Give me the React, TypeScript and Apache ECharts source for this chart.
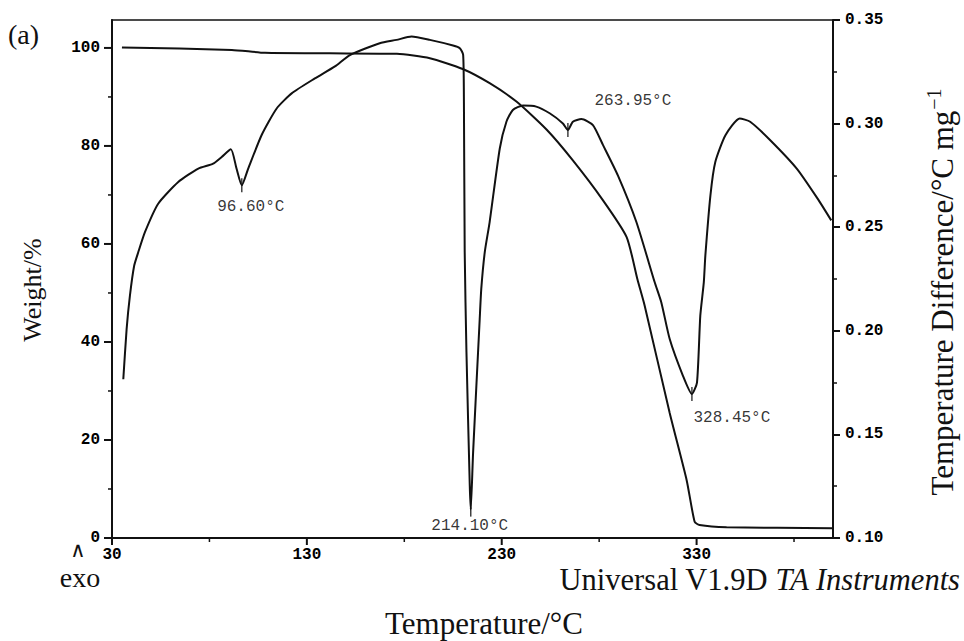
import React, { useEffect, useRef } from "react";
import * as echarts from "echarts";

// TGA (weight %) curve
const tgaTemp = [35.1, 91.5, 108.5, 141.8, 176.2, 193.1, 210, 223.8, 237.7, 253.1, 266.4, 281.8, 294.1, 299.7, 303.3, 316.2, 324.9, 329, 331.5, 345.4, 399.7];
const tgaWeight = [100.1, 99.6, 99.0, 98.9, 98.8, 97.9, 95.7, 92.8, 89.0, 83.3, 77.1, 69.0, 61.4, 52.7, 47.5, 25.5, 11.8, 3.3, 2.65, 2.2, 2.0];

// DTA (temperature difference, °C/mg) curve
const dtaTemp = [35.8, 37.5, 39.2, 41.4, 43.5, 46.9, 53.7, 64.0, 74.3, 81.9, 86.3, 91.0, 93.9, 96.6, 99.9, 106.8, 114.5, 122.2, 134.1, 144.4, 152.1, 167.4, 176.0, 183.7, 193.1, 205.0, 208.5, 210.2, 210.6, 211.0, 211.9, 213.6, 214.1, 215.3, 218.7, 219.5, 221.3, 223.8, 229.0, 232.4, 235.7, 240.9, 247.7, 254.6, 261.4, 263.95, 266.5, 270.9, 276.8, 282.0, 289.6, 299.1, 308.5, 311.9, 316.2, 323.0, 327.6, 330.2, 331.9, 333.7, 334.5, 337.1, 339.6, 344.8, 352.1, 357.5, 367.8, 381.4, 392.1, 399.1];
const dtaDiff = [0.1766, 0.2008, 0.217, 0.2315, 0.238, 0.2476, 0.2613, 0.2718, 0.2783, 0.2807, 0.2839, 0.2876, 0.2783, 0.2702, 0.2783, 0.2945, 0.3073, 0.3146, 0.3218, 0.3276, 0.3331, 0.3388, 0.3404, 0.342, 0.3404, 0.3377, 0.3364, 0.3332, 0.31, 0.238, 0.1896, 0.1252, 0.1137, 0.1411, 0.2057, 0.2202, 0.238, 0.2525, 0.288, 0.3009, 0.3066, 0.3087, 0.3082, 0.305, 0.3001, 0.2969, 0.3009, 0.3022, 0.2993, 0.2896, 0.275, 0.2525, 0.2234, 0.2137, 0.196, 0.1783, 0.1695, 0.175, 0.2073, 0.2234, 0.2364, 0.2654, 0.2815, 0.2944, 0.3025, 0.3009, 0.292, 0.2783, 0.2638, 0.2533];

// Annotated DTA peaks
const peakTemps = [96.6, 214.1, 263.95, 327.6];
const peakDiffs = [0.2702, 0.1137, 0.2969, 0.1695];
const peakLabels = ["96.60°C", "214.10°C", "263.95°C", "328.45°C"];

// Axis ticks
const xMajorTicks = [30, 130, 230, 330];
const xMinorTicks = [80, 180, 280, 380];
const yMajorTicks = [0, 20, 40, 60, 80, 100];
const yMinorTicks = [10, 30, 50, 70, 90];

const X_MIN = 30;
const X_MAX = 400;
const W_MIN = 0;
const W_MAX = 105.7;

const INK = "#111";
const MONO = "'Liberation Mono', 'DejaVu Sans Mono', monospace";
const SERIF = "'Liberation Serif', 'DejaVu Serif', serif";

export default function App() {
  const ref = useRef<HTMLDivElement>(null);

  useEffect(() => {
    if (!ref.current) return;
    const chart = echarts.init(ref.current, undefined, { renderer: "svg" });

    const labelOffsets = [
      [9, 22],
      [-1, 16],
      [65, -29],
      [40, 24],
    ];

    const tickLabel = { color: "#000", fontFamily: MONO, fontSize: 16, fontWeight: "bold" as const };

    // tick marks drawn by a custom series through the axes' own scales
    const tickSeries = (data: number[][], dir: "down" | "left", len: number, width: number) => ({
      type: "custom",
      coordinateSystem: "cartesian2d",
      xAxisIndex: 0,
      yAxisIndex: 0,
      silent: true,
      clip: false,
      z: 6,
      data,
      renderItem: (_params: any, api: any) => {
        const p = api.coord([api.value(0), api.value(1)]);
        const shape =
          dir === "down"
            ? { x1: p[0], y1: p[1], x2: p[0], y2: p[1] + len }
            : { x1: p[0] - len, y1: p[1], x2: p[0], y2: p[1] };
        return { type: "line", shape, style: { stroke: INK, lineWidth: width } };
      },
    });

    chart.setOption({
      animation: false,
      backgroundColor: "#fff",
      grid: {
        left: 112,
        right: 131,
        top: 20,
        bottom: 103,
        show: true,
        borderColor: INK,
        borderWidth: 1.5,
        containLabel: false,
      },
      xAxis: [
        {
          type: "value",
          min: X_MIN,
          max: X_MAX,
          position: "bottom",
          axisLine: { show: true, onZero: false, lineStyle: { color: INK, width: 2 } },
          axisTick: { show: false },
          axisLabel: { customValues: xMajorTicks, margin: 9, ...tickLabel },
          splitLine: { show: false },
        },
      ],
      yAxis: [
        {
          type: "value",
          min: W_MIN,
          max: W_MAX,
          position: "left",
          axisLine: { show: true, onZero: false, lineStyle: { color: INK, width: 2 } },
          axisTick: { show: false },
          axisLabel: { customValues: yMajorTicks, margin: 12, ...tickLabel },
          splitLine: { show: false },
        },
        {
          type: "value",
          min: 0.1,
          max: 0.35,
          interval: 0.05,
          position: "right",
          axisLine: { show: true, onZero: false, lineStyle: { color: INK, width: 2 } },
          axisTick: { show: true, inside: false, length: 7, lineStyle: { color: INK, width: 2 } },
          minorTick: { show: true, splitNumber: 2, length: 4, lineStyle: { color: INK, width: 1.5 } },
          axisLabel: { margin: 12, formatter: (v: number) => v.toFixed(2), ...tickLabel },
          splitLine: { show: false },
          minorSplitLine: { show: false },
        },
      ],
      series: [
        {
          name: "Weight",
          type: "line",
          xAxisIndex: 0,
          yAxisIndex: 0,
          data: tgaTemp.map((t, i) => [t, tgaWeight[i]]),
          showSymbol: false,
          smooth: 0.2,
          lineStyle: { color: INK, width: 2 },
        },
        {
          name: "Temperature Difference",
          type: "line",
          xAxisIndex: 0,
          yAxisIndex: 1,
          data: dtaTemp.map((t, i) => [t, dtaDiff[i]]),
          showSymbol: false,
          smooth: 0.2,
          lineStyle: { color: INK, width: 2 },
        },
        {
          name: "Peaks",
          type: "scatter",
          xAxisIndex: 0,
          yAxisIndex: 1,
          symbol: "rect",
          symbolSize: [1.5, 14],
          itemStyle: { color: INK },
          z: 5,
          data: peakTemps.map((t, i) => ({
            value: [t, peakDiffs[i]],
            label: {
              show: true,
              formatter: peakLabels[i],
              position: "inside",
              offset: labelOffsets[i],
              align: "center",
              verticalAlign: "middle",
              color: "#000",
              fontFamily: MONO,
              fontSize: 16,
            },
          })),
        },
        tickSeries(xMajorTicks.map((v) => [v, W_MIN]), "down", 7, 2),
        tickSeries(xMinorTicks.map((v) => [v, W_MIN]), "down", 4, 1.5),
        tickSeries(yMajorTicks.map((v) => [X_MIN, v]), "left", 8, 2),
        tickSeries(yMinorTicks.map((v) => [X_MIN, v]), "left", 4, 1.5),
      ],
      graphic: [
        {
          type: "text",
          left: 8,
          top: 20,
          style: { text: "(a)", font: `28px ${SERIF}`, fill: INK },
        },
        {
          type: "text",
          x: 32,
          y: 290,
          rotation: Math.PI / 2,
          style: {
            text: "Weight/%",
            font: `26px ${SERIF}`,
            fill: INK,
            align: "center",
            verticalAlign: "middle",
          },
        },
        {
          type: "text",
          x: 941,
          y: 292,
          rotation: Math.PI / 2,
          style: {
            text: "{a|Temperature Difference/°C mg}{s|−1}",
            fill: INK,
            align: "center",
            verticalAlign: "middle",
            rich: {
              a: { fontFamily: SERIF, fontSize: 31, fill: INK, verticalAlign: "bottom" },
              s: { fontFamily: SERIF, fontSize: 20, fill: INK, verticalAlign: "top", padding: [0, 0, 14, 1] },
            },
          },
        },
        {
          type: "text",
          x: 484,
          y: 623,
          style: {
            text: "Temperature/°C",
            font: `31px ${SERIF}`,
            fill: INK,
            align: "center",
            verticalAlign: "middle",
          },
        },
        {
          type: "text",
          x: 960,
          y: 580,
          style: {
            text: "{a|Universal V1.9D }{b|TA Instruments}",
            align: "right",
            verticalAlign: "middle",
            rich: {
              a: { fontFamily: SERIF, fontSize: 30.5, fill: INK },
              b: { fontFamily: SERIF, fontSize: 30.5, fontStyle: "italic", fill: INK },
            },
          },
        },
        {
          type: "text",
          x: 78,
          y: 550,
          style: { text: "∧", font: `21px ${SERIF}`, fill: INK, align: "center", verticalAlign: "middle" },
        },
        {
          type: "text",
          x: 80,
          y: 577,
          style: { text: "exo", font: `28px ${SERIF}`, fill: INK, align: "center", verticalAlign: "middle" },
        },
      ],
    });

    return () => chart.dispose();
  }, []);

  return <div ref={ref} style={{ width: 964, height: 641, position: "absolute", left: 0, top: 0 }} />;
}
